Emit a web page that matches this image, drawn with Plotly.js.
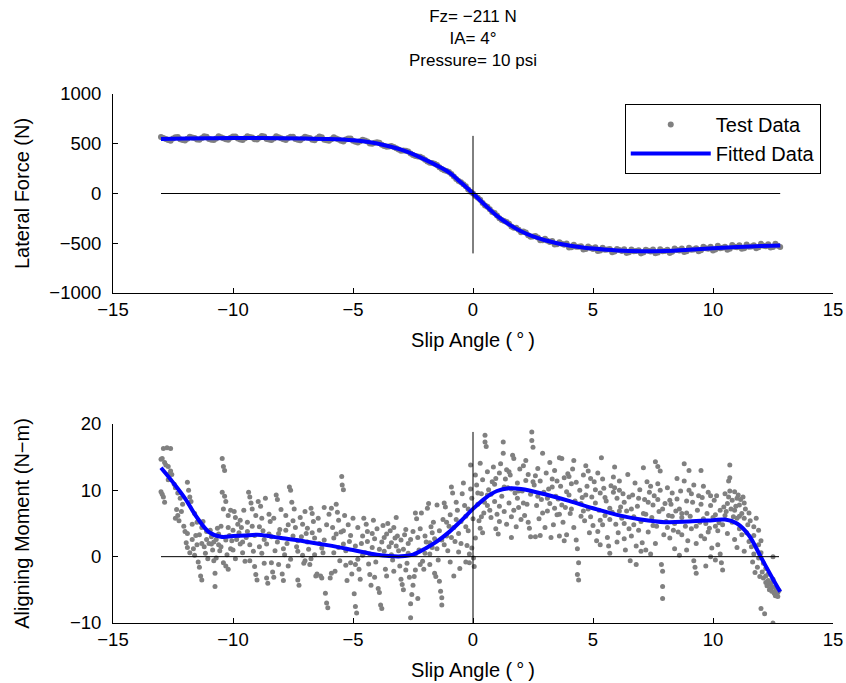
<!DOCTYPE html>
<html><head><meta charset="utf-8">
<script src="https://cdn.plot.ly/plotly-3.0.1.min.js"></script>
<style>html,body{margin:0;padding:0;background:#fff}#chart{width:846px;height:683px}</style>
</head><body><div id="chart"></div>
<script>
const titleLines = ["Fz= \u2212211 N", "IA= 4\u00b0", "Pressure= 10 psi"];
const xLabel = "Slip Angle (\u2009\u00b0\u2009)";
const forceLabel = "Lateral Force (N)";
const momentLabel = "Aligning Moment (N\u2212m)";
const legendNames = ["Test Data", "Fitted Data"];

const forceTestSlipA = [-13,-12.8,-12.6,-12.4,-12.2,-12,-11.8,-11.6,-11.4,-11.2,-11,-10.8,-10.6,-10.4,-10.2,-10,-9.8,-9.6,-9.4,-9.2,-9,-8.8,-8.6,-8.4,-8.2,-8,-7.8,-7.6,-7.4,-7.2,-7,-6.8,-6.6,-6.4,-6.2,-6,-5.8,-5.6,-5.4,-5.2,-5,-4.8,-4.6,-4.4,-4.2,-4,-3.8,-3.6,-3.4,-3.2,-3,-2.8,-2.6,-2.4,-2.2,-2,-1.8,-1.6,-1.4,-1.2,-1,-0.8,-0.6,-0.4,-0.2,0,0.2,0.4,0.6,0.8,1,1.2,1.4,1.6,1.8,2,2.2,2.4,2.6,2.8,3,3.2,3.4,3.6,3.8,4,4.2,4.4,4.6,4.8,5,5.2,5.4,5.6,5.8,6,6.2,6.4,6.6,6.8,7,7.2,7.4,7.6,7.8,8,8.2,8.4,8.6,8.8,9,9.2,9.4,9.6,9.8,10,10.2,10.4,10.6,10.8,11,11.2,11.4,11.6,11.8,12,12.2,12.4,12.6,12.8];
const forceTestValueA = [568,549,531,565,546,532,571,558,539,576,547,537,576,556,539,572,552,537,575,562,542,579,549,538,576,556,537,570,549,534,571,557,536,572,540,529,565,543,522,553,530,512,540,522,499,515,489,469,478,456,430,430,402,376,369,340,309,298,264,234,217,172,126,93,41,0,-42,-96,-132,-187,-220,-266,-287,-332,-344,-390,-391,-434,-428,-470,-455,-487,-512,-489,-516,-542,-514,-536,-563,-533,-558,-579,-546,-562,-591,-557,-577,-597,-562,-579,-602,-565,-582,-601,-560,-577,-597,-552,-573,-589,-545,-562,-581,-534,-556,-572,-526,-545,-565,-518,-541,-556,-512,-532,-550,-506,-530,-543,-505,-537];
const forceTestSlipB = [-12.9,-12.7,-12.5,-12.3,-12.1,-11.9,-11.7,-11.5,-11.3,-11.1,-10.9,-10.7,-10.5,-10.3,-10.1,-9.9,-9.7,-9.5,-9.3,-9.1,-8.9,-8.7,-8.5,-8.3,-8.1,-7.9,-7.7,-7.5,-7.3,-7.1,-6.9,-6.7,-6.5,-6.3,-6.1,-5.9,-5.7,-5.5,-5.3,-5.1,-4.9,-4.7,-4.5,-4.3,-4.1,-3.9,-3.7,-3.5,-3.3,-3.1,-2.9,-2.7,-2.5,-2.3,-2.1,-1.9,-1.7,-1.5,-1.3,-1.1,-0.9,-0.7,-0.5,-0.3,-0.1,0.1,0.3,0.5,0.7,0.9,1.1,1.3,1.5,1.7,1.9,2.1,2.3,2.5,2.7,2.9,3.1,3.3,3.5,3.7,3.9,4.1,4.3,4.5,4.7,4.9,5.1,5.3,5.5,5.7,5.9,6.1,6.3,6.5,6.7,6.9,7.1,7.3,7.5,7.7,7.9,8.1,8.3,8.5,8.7,8.9,9.1,9.3,9.5,9.7,9.9,10.1,10.3,10.5,10.7,10.9,11.1,11.3,11.5,11.7,11.9,12.1,12.3,12.5,12.7];
const forceTestValueB = [558,537,554,567,538,551,563,542,558,571,541,554,566,545,561,573,543,555,567,545,561,573,543,554,566,544,559,571,540,552,563,540,555,565,534,544,554,530,543,553,519,526,532,503,511,510,477,473,467,441,433,421,387,372,356,322,306,287,246,225,197,146,112,72,17,-24,-64,-121,-157,-195,-249,-277,-304,-344,-364,-383,-419,-432,-441,-471,-474,-478,-511,-505,-502,-540,-535,-530,-558,-547,-539,-573,-565,-557,-583,-569,-559,-590,-580,-570,-592,-576,-563,-593,-580,-566,-586,-567,-553,-580,-566,-551,-570,-551,-536,-563,-549,-534,-554,-535,-521,-549,-535,-521,-541,-524,-510,-538,-525];

const forceFitSlip = [-13,-12,-11,-10,-9,-8,-7,-6,-5,-4.5,-4,-3.5,-3,-2.5,-2,-1.5,-1,-0.5,0,0.5,1,1.5,2,2.5,3,3.5,4,4.5,5,6,7,8,9,10,11,12,12.8];
const forceFitValue = [548,552,555,557,557,556,553,547,535,522,503,475,440,395,340,280,212,110,0,-115,-225,-310,-380,-432,-470,-500,-522,-540,-553,-572,-580,-577,-565,-550,-538,-528,-522];

const momentTestPoints = [
[-13.0,14.7],[-12.95,14.8],[-12.9,16.3],[-12.75,16.4],[-12.6,16.3],[-12.85,14.2],[-12.7,13.6],[-12.6,12.9],[-12.55,12.4],[-13.0,9.8],[-12.9,9.0],[-12.85,8.2],[-12.95,9.4],[-12.7,11.6],[-12.65,12.5],[-12.8,13.8],
[-12.45,10.9],[-12.4,10.4],[-12.35,7.1],[-12.3,6.2],[-12.25,5.4],[-12.2,8.8],[-12.1,7.9],[-12.05,4.6],[-12.4,5.8],[-12.15,6.8],[-12.0,3.8],[-12.3,9.6],
[-11.9,11.2],[-11.85,10.0],[-11.8,9.0],[-11.75,8.3],[-11.95,2.1],[-11.9,1.4],[-11.8,0.6],[-11.7,4.9],[-11.6,6.5],[-11.55,3.2],[-11.65,1.2],[-11.5,5.2],
[-11.45,-0.8],[-11.4,-1.6],[-11.35,-2.9],[-11.3,-3.5],[-11.2,1.5],[-11.1,2.6],[-11.3,4.4],[-11.15,0.5],[-11.05,-0.3],[-11.4,3.3],[-11.25,5.3],[-11.0,2.0],
[-10.95,4.0],[-10.85,1.0],[-10.8,-0.6],[-10.75,-4.5],[-10.75,-2.5],[-10.7,2.6],[-10.6,3.4],[-10.55,0.9],[-10.65,4.3],[-10.9,1.9],[-10.5,1.5],[-10.7,-0.2],
[-10.45,14.8],[-10.4,13.6],[-10.35,13.0],[-10.45,9.7],[-10.35,9.1],[-10.3,8.3],[-10.4,7.2],[-10.2,6.2],[-10.3,-1.4],[-10.1,1.2],[-10.15,3.2],[-10.05,2.4],[-10.25,0.3],[-10.0,4.0],[-10.1,7.0],[-10.4,-0.9],[-10.2,-1.9],
[-9.95,6.8],[-9.9,5.9],[-9.8,4.9],[-9.75,3.6],[-9.7,1.9],[-9.6,0.6],[-9.85,2.6],[-9.55,7.0],[-9.65,4.4],[-9.5,-0.7],[-9.9,-0.3],[-9.7,5.5],
[-9.45,2.9],[-9.35,9.7],[-9.3,9.0],[-9.25,8.1],[-9.2,4.6],[-9.1,-1.5],[-9.05,-2.7],[-9.0,-3.5],[-9.15,0.8],[-9.4,3.8],[-9.3,-0.6],[-9.05,6.2],[-9.2,7.2],
[-8.95,8.3],[-8.85,7.6],[-8.8,5.8],[-8.75,3.9],[-8.7,-1.0],[-8.6,-3.2],[-8.55,-4.0],[-8.9,1.5],[-8.65,8.8],[-8.5,6.4],[-8.6,1.9],[-8.8,0.5],
[-8.45,5.3],[-8.4,3.0],[-8.35,-2.3],[-8.3,-3.1],[-8.2,9.3],[-8.15,8.6],[-8.25,0.9],[-8.1,-1.2],[-8.05,4.1],[-8.0,7.1],[-8.4,-0.9],[-8.15,2.2],
[-7.95,-2.6],[-7.9,-3.6],[-7.85,0.3],[-7.8,6.2],[-7.75,2.0],[-7.7,4.8],[-7.65,10.5],[-7.6,10.0],[-7.55,8.2],[-7.7,-1.4],[-7.5,3.1],[-7.6,-0.4],
[-7.45,7.2],[-7.4,4.4],[-7.35,1.5],[-7.3,-3.5],[-7.25,-4.3],[-7.2,5.9],[-7.1,0.2],[-7.05,-1.0],[-7.15,3.0],[-7.0,6.8],[-7.3,2.4],[-7.0,-0.6],
[-6.95,3.5],[-6.85,1.1],[-6.8,-1.2],[-6.75,-0.3],[-6.7,6.5],[-6.65,5.3],[-6.6,2.8],[-6.55,-2.9],[-6.5,-2.6],[-6.9,4.3],[-6.6,0.3],[-6.75,7.3],
[-6.45,5.8],[-6.4,4.0],[-6.35,-2.9],[-6.3,-3.2],[-6.25,0.6],[-6.2,7.4],[-6.15,-5.5],[-6.1,-7.0],[-6.05,-7.7],[-6.2,2.5],[-6.0,6.4],[-6.3,1.3],
[-5.95,-3.2],[-5.9,-2.5],[-5.85,4.4],[-5.8,2.8],[-5.75,-2.2],[-5.7,7.9],[-5.65,6.7],[-5.6,1.4],[-5.55,-0.6],[-5.5,3.7],[-5.9,7.3],[-5.6,5.5],
[-5.47,12.1],[-5.45,10.8],[-5.4,10.1],[-5.4,3.9],[-5.35,6.2],[-5.3,-1.3],[-5.25,-3.6],[-5.2,4.8],[-5.15,2.3],[-5.1,-0.9],[-5.05,-2.6],[-5.0,5.8],[-5.3,0.9],
[-4.95,-5.6],[-4.9,-7.5],[-4.85,-8.5],[-4.9,1.6],[-4.8,4.4],[-4.75,-1.9],[-4.7,-3.4],[-4.6,3.1],[-4.55,5.8],[-4.5,0.6],[-4.65,2.0],[-4.8,-0.4],
[-4.45,4.9],[-4.4,3.8],[-4.35,-1.1],[-4.3,-2.7],[-4.25,-4.3],[-4.2,1.4],[-4.15,5.5],[-4.1,2.7],[-4.05,-0.8],[-4.0,4.2],[-4.3,0.4],[-4.1,-3.1],
[-3.95,-4.8],[-3.9,-5.4],[-3.85,-7.3],[-3.8,-7.8],[-3.8,2.2],[-3.75,4.7],[-3.7,0.8],[-3.65,-1.9],[-3.6,3.4],[-3.55,5.0],[-3.5,1.5],[-3.6,-2.9],
[-3.45,3.9],[-3.4,2.1],[-3.35,-0.5],[-3.3,4.4],[-3.25,2.8],[-3.2,5.9],[-3.15,3.1],[-3.1,0.9],[-3.05,-1.4],[-3.0,-3.4],[-3.3,-2.2],[-3.0,2.5],
[-2.95,-4.2],[-2.9,-5.0],[-2.85,3.3],[-2.8,4.1],[-2.75,-1.0],[-2.7,2.0],[-2.65,-3.1],[-2.6,-9.2],[-2.6,-7.1],[-2.55,-5.7],[-2.5,-4.3],[-2.5,3.8],[-2.7,0.5],
[-2.45,-3.0],[-2.4,-2.0],[-2.35,5.7],[-2.3,2.9],[-2.25,1.0],[-2.2,4.2],[-2.15,6.6],[-2.1,-0.7],[-2.05,-1.9],[-2.0,3.1],[-2.3,-6.3],[-2.4,6.6],
[-1.95,2.2],[-1.9,7.3],[-1.85,8.0],[-1.8,-1.2],[-1.75,4.5],[-1.7,1.4],[-1.65,5.2],[-1.6,-2.5],[-1.55,-3.0],[-1.5,7.8],[-1.8,0.4],[-1.6,2.7],
[-1.45,-0.5],[-1.4,-3.7],[-1.35,-5.2],[-1.3,-7.3],[-1.3,-6.2],[-1.25,5.6],[-1.2,8.1],[-1.15,7.5],[-1.1,3.1],[-1.05,0.9],[-1.0,4.6],[-1.4,3.9],[-1.2,1.8],
[-0.95,6.3],[-0.9,10.5],[-0.85,9.6],[-0.8,4.4],[-0.75,2.3],[-0.7,8.2],[-0.65,7.0],[-0.6,0.7],[-0.55,-1.8],[-0.5,5.3],[-0.8,-2.9],[-0.6,3.5],[-0.95,-0.8],
[-0.45,9.5],[-0.4,11.1],[-0.35,7.7],[-0.3,6.1],[-0.25,1.7],[-0.2,3.9],[-0.15,0.4],[-0.1,13.8],[-0.1,10.2],[-0.05,8.8],[0.0,5.7],[-0.3,-0.8],[-0.15,-0.9],[-0.05,1.3],
[0.02,-0.2],[0.05,-1.5],[0.1,12.3],[0.15,10.8],[0.2,7.9],[0.25,5.4],[0.3,4.3],[0.35,9.5],[0.4,11.6],[0.45,6.6],[0.5,18.3],[0.5,17.3],[0.48,8.2],[0.3,14.1],[0.1,2.8],
[0.55,16.6],[0.6,12.8],[0.65,10.1],[0.7,7.0],[0.75,5.9],[0.8,11.3],[0.85,13.5],[0.9,8.3],[0.95,4.2],[1.0,6.4],[0.6,9.3],[0.9,10.9],
[1.05,3.4],[1.1,12.6],[1.15,14.0],[1.26,17.3],[1.26,15.6],[1.2,9.1],[1.3,6.8],[1.35,11.7],[1.4,4.9],[1.45,10.4],[1.5,8.1],[1.1,7.6],[1.4,13.1],
[1.55,12.3],[1.6,6.0],[1.65,15.3],[1.7,14.8],[1.75,9.6],[1.8,4.5],[1.85,11.1],[1.9,7.4],[1.95,13.2],[2.0,5.6],[1.6,10.2],[1.85,8.8],
[2.05,9.9],[2.1,13.7],[2.15,6.2],[2.2,11.5],[2.25,7.9],[2.3,12.4],[2.35,4.3],[2.4,9.4],[2.45,18.8],[2.45,17.5],[2.5,16.5],[2.4,3.0],[2.2,14.5],
[2.55,10.8],[2.6,3.0],[2.65,7.7],[2.7,13.3],[2.75,5.7],[2.8,11.4],[2.85,8.6],[2.9,15.6],[2.95,9.7],[3.0,4.4],[2.6,12.2],[2.8,3.2],
[3.05,12.6],[3.1,6.9],[3.15,10.2],[3.2,8.0],[3.25,2.9],[3.3,11.7],[3.35,4.8],[3.4,13.0],[3.45,9.1],[3.5,6.3],[3.2,14.2],[3.4,7.3],
[3.55,8.7],[3.6,14.9],[3.65,10.6],[3.7,14.8],[3.75,5.2],[3.8,11.9],[3.85,7.4],[3.9,3.3],[3.95,12.5],[4.0,9.3],[3.6,6.4],[3.8,2.4],
[4.05,6.5],[4.1,11.0],[4.15,13.2],[4.2,14.5],[4.25,8.4],[4.3,2.5],[4.35,1.2],[4.35,-2.7],[4.4,-3.5],[4.4,-0.9],[4.45,10.0],[4.5,6.1],[4.2,4.4],[4.0,12.1],
[4.55,8.9],[4.6,12.3],[4.65,5.4],[4.7,13.7],[4.75,10.6],[4.8,7.2],[4.85,3.6],[4.9,11.8],[4.95,9.0],[5.0,4.7],[4.6,6.9],[4.8,12.9],
[5.05,11.3],[5.1,8.1],[5.15,2.4],[5.2,12.6],[5.25,7.0],[5.3,9.6],[5.35,14.9],[5.4,4.8],[5.45,10.3],[5.5,6.2],[5.2,3.8],[5.4,11.7],
[5.55,8.4],[5.6,2.9],[5.65,1.6],[5.7,0.5],[5.75,10.7],[5.8,6.7],[5.85,12.0],[5.9,13.5],[5.95,4.9],[6.0,8.8],[5.7,5.6],[5.85,9.7],
[6.05,3.6],[6.1,11.4],[6.15,7.5],[6.2,5.8],[6.25,9.5],[6.3,2.7],[6.35,1.0],[6.4,6.9],[6.45,12.4],[6.5,4.2],[6.3,8.2],[6.1,10.0],
[6.55,-0.6],[6.6,3.1],[6.65,9.3],[6.7,6.0],[6.75,11.1],[6.8,-1.2],[6.8,1.6],[6.85,7.6],[6.9,4.0],[6.95,10.1],[7.0,5.3],[6.6,7.2],
[7.05,2.1],[7.1,13.4],[7.15,8.6],[7.2,6.4],[7.25,11.3],[7.3,3.7],[7.35,9.7],[7.4,0.4],[7.45,5.9],[7.5,7.8],[7.2,1.0],[7.4,10.6],
[7.55,9.2],[7.6,14.3],[7.7,13.6],[7.8,12.9],[7.7,11.0],[7.8,10.0],[7.65,4.6],[7.75,6.8],[7.85,-1.2],[7.9,-2.2],[7.9,-4.5],[7.9,-6.3],[7.95,3.3],[8.0,8.0],[7.6,2.0],
[8.05,5.3],[8.1,10.4],[8.15,6.2],[8.2,2.8],[8.25,7.9],[8.3,9.6],[8.35,4.0],[8.4,1.2],[8.45,6.9],[8.5,11.8],[8.2,8.5],[8.4,5.0],
[8.55,3.7],[8.6,7.2],[8.65,9.9],[8.7,5.9],[8.8,14.0],[8.8,11.4],[8.85,4.6],[8.9,8.4],[8.95,2.4],[9.0,13.0],[9.0,10.0],[8.7,6.5],[8.9,1.0],
[9.05,6.1],[9.1,4.2],[9.15,8.2],[9.2,-0.6],[9.25,-1.6],[9.3,-2.5],[9.3,2.0],[9.35,7.0],[9.4,9.2],[9.45,5.2],[9.5,13.0],[9.5,3.1],[9.2,10.8],
[9.55,8.9],[9.6,5.7],[9.65,2.7],[9.7,-1.4],[9.75,6.5],[9.8,9.7],[9.85,4.3],[9.9,7.7],[9.95,1.3],[10.0,5.9],[9.6,10.6],[9.8,3.7],
[10.05,8.5],[10.1,6.3],[10.15,9.2],[10.2,3.9],[10.25,5.1],[10.3,0.4],[10.35,-0.9],[10.4,-2.0],[10.45,7.5],[10.5,9.5],[10.2,1.8],[10.4,4.8],
[10.55,6.8],[10.6,8.0],[10.65,9.0],[10.7,13.8],[10.7,11.9],[10.65,11.4],[10.75,7.2],[10.8,8.5],[10.85,6.0],[10.9,9.8],[10.95,7.6],[11.0,8.8],[10.6,3.5],[10.8,5.2],[11.0,5.8],[10.9,2.6],
[11.05,9.3],[11.1,7.8],[11.15,8.6],[11.2,6.5],[11.25,9.0],[11.3,5.8],[11.35,7.2],[11.4,3.6],[11.45,4.8],[11.5,2.3],[11.2,3.3],[11.3,0.8],[11.1,4.2],
[11.55,5.4],[11.6,1.5],[11.65,-0.8],[11.7,0.4],[11.75,-2.4],[11.8,5.8],[11.85,-1.6],[11.9,4.0],[11.95,-3.0],[12.0,-7.8],[12.0,0.6],[11.7,3.2],[11.9,-0.2],[12.0,2.4],
[12.05,-2.3],[12.1,-3.2],[12.15,-8.6],[12.2,-3.9],[12.25,-4.4],[12.3,-3.6],[12.35,-5.0],[12.4,-4.8],[12.45,-5.2],[12.5,-10.0],[12.5,0.0],[12.2,-1.8],[12.35,-4.1],[12.45,-4.5],
[12.55,-5.5],[12.6,-5.3],[12.65,-5.8],[12.7,-5.4],[12.75,-5.1],[12.6,-4.7],[12.7,-6.0],
[-11.9,3.5],[-11.7,2.6],[-11.6,0.2],[-11.5,1.8],[-11.3,2.0],[-11.1,3.8],[-10.9,3.0],[-10.8,2.2],[-10.6,1.8],[-10.5,4.6],[-10.3,2.5],[-10.2,4.4],[-10.0,1.0],[-9.8,3.1],[-9.6,2.2],[-9.4,5.2],[-9.3,1.8],[-9.1,3.2],[-8.9,4.5],[-8.7,2.6],[-8.5,3.4],[-8.3,5.8],[-8.1,3.5],[-7.9,1.2],[-7.8,4.0],[-7.5,5.4],[-7.3,0.8],[-7.1,4.9],[-6.9,2.2],[-6.7,3.6],[-6.4,2.0],[-6.1,4.8],[-5.8,0.6],[-5.7,3.4],[-5.4,1.9],[-5.1,3.2],[-4.9,-1.2],[-4.6,0.2],[-4.4,2.3],[-4.2,3.5],[-3.9,1.1],[-3.7,2.9],[-3.4,0.3],[-3.2,1.6],[-2.9,1.1],[-2.8,-2.0],[-2.6,2.6],[-2.4,0.4],[-2.2,-1.2],[-2.0,0.5],[-1.8,2.1],[-1.7,3.6],[-1.5,1.2],[-1.3,2.5],[-1.1,5.2],[-0.9,2.9],[-0.7,5.6],[-0.5,2.0],[-0.3,4.5],[-0.2,7.2],
[0.2,9.6],[0.35,6.0],[0.6,7.7],[0.75,9.4],[0.95,11.8],[1.1,5.3],[1.3,10.5],[1.5,12.8],[1.7,7.0],[1.9,9.9],[2.1,8.1],[2.3,5.2],[2.5,11.3],[2.7,9.1],[2.9,6.6],[3.1,8.8],[3.3,10.5],[3.5,11.4],[3.7,7.8],[3.9,9.8],[4.1,7.2],[4.3,11.2],[4.5,8.0],[4.7,9.3],[4.9,6.0],[5.1,10.1],[5.3,5.5],[5.5,8.9],[5.7,7.3],[5.9,10.4],[6.1,6.9],[6.3,5.0],[6.5,9.0],[6.7,4.8],[6.9,8.8],[7.1,6.5],[7.3,8.2],[7.5,4.7],[7.7,8.6],[7.9,7.2],[8.1,4.4],[8.3,6.1],[8.5,8.7],[8.7,3.3],[8.9,6.6],[9.1,9.5],[9.3,4.6],[9.5,7.9],[9.7,5.0],[9.9,9.2],[10.1,4.6],[10.3,7.0],[10.5,6.2],[10.7,9.9],[10.9,7.0],[11.1,6.1],[11.3,8.1],[11.5,6.6],[11.7,4.5],[11.9,1.8],[12.1,-1.0],[12.3,-2.6],[12.5,-3.4],[12.6,-5.9],[12.4,-4.0],[12.2,-2.9],
[0.4,3.6],[1.6,2.9],[3.6,3.1],[5.3,1.8],[6.0,2.2],[7.0,0.8],[8.6,0.2],[9.9,0.0],[10.1,-0.5],[11.0,1.4]
];
const momentFitSlip = [-13,-12.5,-12,-11.5,-11,-10.5,-10,-9.5,-9,-8.5,-8,-7,-6,-5,-4,-3.5,-3,-2.5,-2,-1.5,-1,-0.5,0,0.5,1,1.5,2,3,4,5,6,7,8,9,10,10.5,11,11.5,12,12.5,12.8];
const momentFitValue = [13.4,11.2,8.8,5.9,3.7,3.0,3.1,3.2,3.3,3.1,2.8,2.3,1.7,1.0,0.3,0.1,0.05,0.3,1.2,2.3,3.7,5.4,7.2,8.8,9.9,10.3,10.2,9.4,8.4,7.3,6.3,5.6,5.2,5.3,5.5,5.6,5.0,3.2,-0.1,-3.4,-5.3];

const forceTestSlip = forceTestSlipA.concat(forceTestSlipB);
const forceTestValue = forceTestValueA.concat(forceTestValueB);
const momentTestSlip = momentTestPoints.map(p => p[0]);
const momentTestValue = momentTestPoints.map(p => p[1]);

const FONT = "Liberation Sans, Arial, Helvetica, sans-serif";
const gray = "#808080", blue = "#0000ff";

function refLines(xs, ys, xa, ya) {
  const xmin = Math.min(...xs), xmax = Math.max(...xs);
  const ymin = Math.min(...ys), ymax = Math.max(...ys);
  return [
    {x: [xmin, xmax], y: [0, 0], xaxis: xa, yaxis: ya, mode: "lines", line: {color: "#000", width: 1}, showlegend: false, hoverinfo: "skip"},
    {x: [0, 0], y: [ymin, ymax], xaxis: xa, yaxis: ya, mode: "lines", line: {color: "#000", width: 1}, showlegend: false, hoverinfo: "skip"}
  ];
}

const traces = [
  {x: forceTestSlip, y: forceTestValue, xaxis: "x", yaxis: "y", mode: "markers", name: legendNames[0],
   marker: {color: gray, size: 6}},
  {x: forceFitSlip, y: forceFitValue, xaxis: "x", yaxis: "y", mode: "lines", name: legendNames[1],
   line: {color: blue, width: 4, shape: "spline", smoothing: 1}},
  ...refLines(forceTestSlip, forceTestValue, "x", "y"),
  {x: momentTestSlip, y: momentTestValue, xaxis: "x2", yaxis: "y2", mode: "markers", showlegend: false,
   marker: {color: gray, size: 5}},
  {x: momentFitSlip, y: momentFitValue, xaxis: "x2", yaxis: "y2", mode: "lines", showlegend: false,
   line: {color: blue, width: 4, shape: "spline", smoothing: 1}},
  ...refLines(momentTestSlip, momentTestValue, "x2", "y2")
];

const axisBase = {
  showline: true, linecolor: "#000", linewidth: 1, ticks: "inside", ticklen: 5, tickcolor: "#000",
  showgrid: false, zeroline: false, mirror: false, tickfont: {family: FONT, size: 18.5, color: "#000"}
};
const xTitle = {text: xLabel, font: {family: FONT, size: 20, color: "#000"}, standoff: 13};

const layout = {
  width: 846, height: 683,
  paper_bgcolor: "#fff", plot_bgcolor: "#fff",
  margin: {l: 113, r: 13, t: 94, b: 60},
  font: {family: FONT, color: "#000"},
  title: {text: titleLines.join("<br>"), font: {family: FONT, size: 17, color: "#000"},
          x: 0.5, xref: "paper", y: 0.968, yref: "container", yanchor: "top"},
  xaxis: Object.assign({}, axisBase, {domain: [0, 1], anchor: "y", range: [-15, 15], tickvals: [-15,-10,-5,0,5,10,15],
    title: xTitle}),
  yaxis: Object.assign({}, axisBase, {domain: [0.6238, 1], anchor: "x", range: [-1000, 1000], tickvals: [-1000,-500,0,500,1000],
    ticklabelstandoff: 7, title: {text: forceLabel, font: {family: FONT, size: 20, color: "#000"}, standoff: 14}}),
  xaxis2: Object.assign({}, axisBase, {domain: [0, 1], anchor: "y2", range: [-15, 15], tickvals: [-15,-10,-5,0,5,10,15],
    title: xTitle}),
  yaxis2: Object.assign({}, axisBase, {domain: [0, 0.3762], anchor: "x2", range: [-10, 20], tickvals: [-10,0,10,20],
    ticklabelstandoff: 7, title: {text: momentLabel, font: {family: FONT, size: 20, color: "#000"}, standoff: 34}}),
  legend: {x: 0.983, xanchor: "right", y: 0.981, yanchor: "top", bgcolor: "#fff", bordercolor: "#000", borderwidth: 1,
    font: {family: FONT, size: 20, color: "#000"}, itemwidth: 80, tracegroupgap: 0},
  showlegend: true
};

Plotly.newPlot("chart", traces, layout, {displayModeBar: false, staticPlot: true});
</script>
</body></html>
